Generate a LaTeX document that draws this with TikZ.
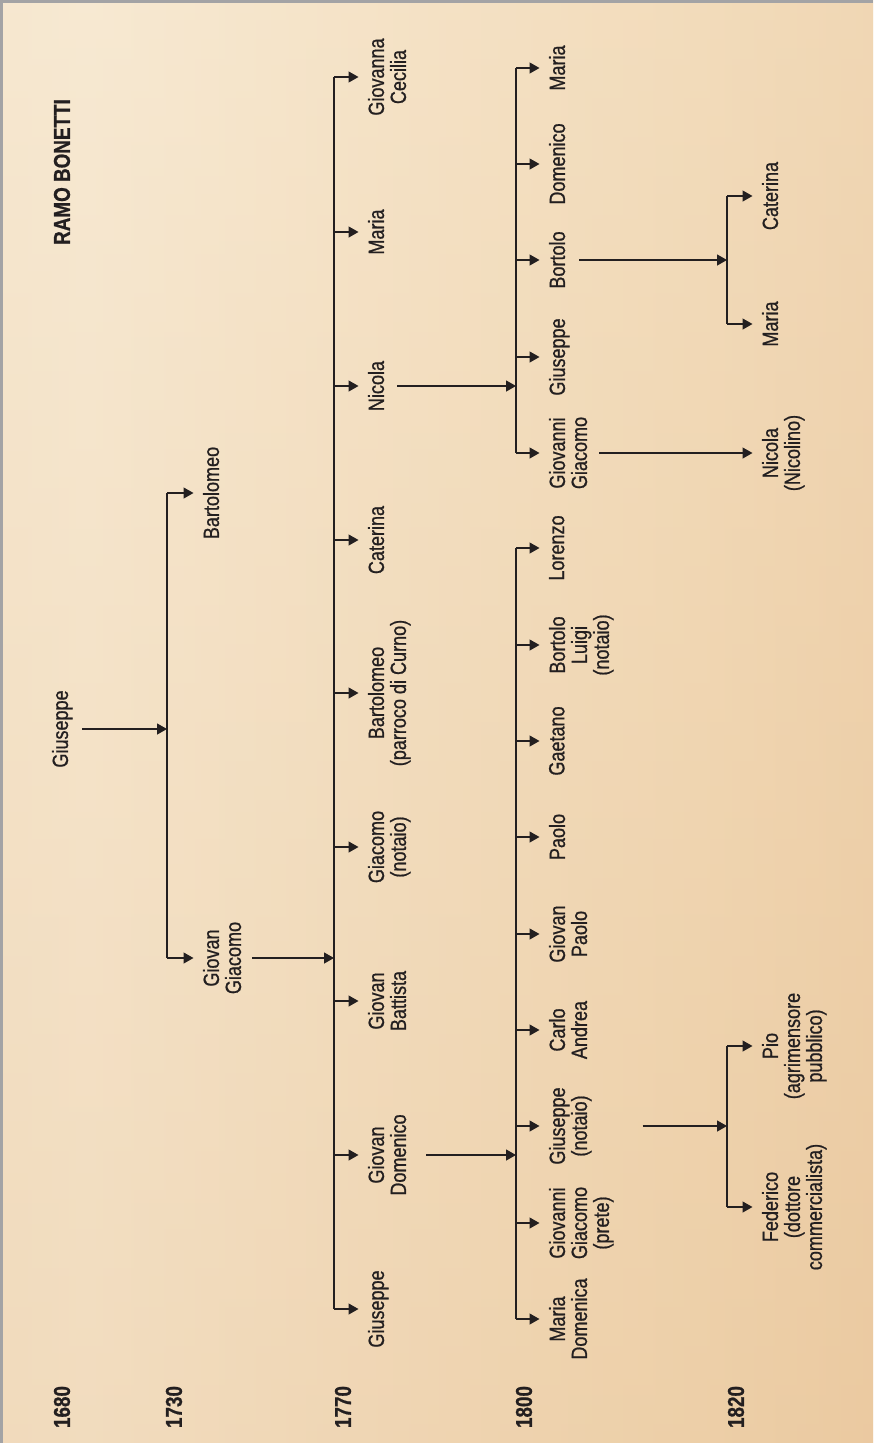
\documentclass[tikz,border=0pt]{standalone}
\usepackage{fontspec}
\setmainfont[FakeStretch=0.82, FakeBold=0.8]{Liberation Sans}
\usetikzlibrary{arrows.meta}
\definecolor{ink}{HTML}{231F20}
\definecolor{bgA}{HTML}{EEDBBC}
\definecolor{bgB}{HTML}{F7E9D2}
\definecolor{bgC}{HTML}{F0D5AF}
\definecolor{bgD}{HTML}{E4B98A}
\definecolor{bgBot}{HTML}{E8C49A}
\definecolor{frame}{HTML}{A3A3A5}
\pgfdeclarehorizontalshading{bgh}{100bp}{color(0bp)=(bgA); color(30bp)=(bgB); color(65bp)=(bgC); color(100bp)=(bgD)}
\begin{document}
\begin{tikzpicture}[x=1pt,y=-1pt,
  person/.style={rotate=90, anchor=north, align=center, inner sep=0pt, outer sep=0pt,
    font=\fontsize{22}{22}\selectfont, text=ink},
  yearlbl/.style={rotate=90, inner sep=0pt, font=\fontsize{23}{23}\selectfont\bfseries, text=ink},
  link/.style={draw=ink, line width=1.3pt},
  arr/.style={link, -{Triangle[length=10pt,width=11pt]}},
  branch/.style={arr, shorten >=9.5pt},
]
\useasboundingbox (0,0) rectangle (873,1443);
\shade[shading=bgh] (0,0) rectangle (873,1443);
\shade[top color=bgB, bottom color=bgBot, opacity=0.35] (0,0) rectangle (873,1443);
\draw[frame, line width=3pt] (1.5,1443) -- (1.5,1.5) -- (873,1.5);

% title and years
\node[yearlbl] (title) at (62,172) {RAMO BONETTI};
\node[yearlbl] (y1680) at (62,1407) {1680};
\node[yearlbl] (y1730) at (174,1407) {1730};
\node[yearlbl] (y1770) at (343,1407) {1770};
\node[yearlbl] (y1800) at (524,1407) {1800};
\node[yearlbl] (y1820) at (736,1407) {1820};

% vertical line positions
\coordinate (v1) at (167,0);
\coordinate (v2) at (334,0);
\coordinate (v3) at (516,0);
\coordinate (v4) at (727,0);

% 1680
\node[person] (g0) at (52,729) {Giuseppe};
% 1730
\node[person] (bart1) at (203,493) {Bartolomeo};
\node[person] (gg1) at (203,958) {Giovan\\Giacomo};
% 1770
\node[person] (gc) at (368,77) {Giovanna\\Cecilia};
\node[person] (mar2) at (368,232) {Maria};
\node[person] (nic) at (368,386) {Nicola};
\node[person] (cat2) at (368,540) {Caterina};
\node[person] (bart2) at (368,693) {Bartolomeo\\(parroco di Curno)};
\node[person] (giac) at (368,847) {Giacomo\\(notaio)};
\node[person] (gb) at (368,1001) {Giovan\\Battista};
\node[person] (gd) at (368,1155) {Giovan\\Domenico};
\node[person] (gius2) at (368,1309) {Giuseppe};
% 1800 (children of Nicola)
\node[person] (mar3) at (549,68) {Maria};
\node[person] (dom3) at (549,164) {Domenico};
\node[person] (bor3) at (549,260) {Bortolo};
\node[person] (gius3) at (549,357) {Giuseppe};
\node[person] (ggi3) at (549,453) {Giovanni\\Giacomo};
% 1800 (children of Giovan Domenico)
\node[person] (lor) at (549,548) {Lorenzo};
\node[person] (bl) at (549,645) {Bortolo\\Luigi\\(notaio)};
\node[person] (gae) at (549,741) {Gaetano};
\node[person] (pao) at (549,837) {Paolo};
\node[person] (gp) at (549,934) {Giovan\\Paolo};
\node[person] (ca) at (549,1030) {Carlo\\Andrea};
\node[person] (gn) at (549,1126) {Giuseppe\\(notaio)};
\node[person] (ggp) at (549,1223) {Giovanni\\Giacomo\\(prete)};
\node[person] (md) at (549,1319) {Maria\\Domenica};
% 1820
\node[person] (cat4) at (762,196) {Caterina};
\node[person] (mar4) at (762,324) {Maria};
\node[person] (nn) at (762,453) {Nicola\\(Nicolino)};
\node[person] (pio) at (762,1046) {Pio\\(agrimensore\\pubblico)};
\node[person] (fed) at (762,1207) {Federico\\(dottore\\commercialista)};

% Giuseppe -> Bartolomeo, Giovan Giacomo
\draw[arr, shorten <=9.5pt] (g0.south) -- (g0.south -| v1);
\draw[link] (bart1.north -| v1) -- (gg1.north -| v1);
\foreach \n in {bart1,gg1} \draw[branch] (\n.north -| v1) -- (\n.north);

% Giovan Giacomo -> 1770 children
\draw[arr, shorten <=11pt] (gg1.south) -- (gg1.south -| v2);
\draw[link] (gc.north -| v2) -- (gius2.north -| v2);
\foreach \n in {gc,mar2,nic,cat2,bart2,giac,gb,gd,gius2} \draw[branch] (\n.north -| v2) -- (\n.north);

% Nicola -> children
\draw[arr, shorten <=13pt] (nic.south) -- (nic.south -| v3);
\draw[link] (mar3.north -| v3) -- (ggi3.north -| v3);
\foreach \n in {mar3,dom3,bor3,gius3,ggi3} \draw[branch] (\n.north -| v3) -- (\n.north);

% Giovan Domenico -> children
\draw[arr, shorten <=20pt] (gd.south) -- (gd.south -| v3);
\draw[link] (lor.north -| v3) -- (md.north -| v3);
\foreach \n in {lor,bl,gae,pao,gp,ca,gn,ggp,md} \draw[branch] (\n.north -| v3) -- (\n.north);

% Bortolo -> Caterina, Maria
\draw[arr, shorten <=14pt] (bor3.south) -- (bor3.south -| v4);
\draw[link] (cat4.north -| v4) -- (mar4.north -| v4);
\foreach \n in {cat4,mar4} \draw[branch] (\n.north -| v4) -- (\n.north);

% Giovanni Giacomo -> Nicola (Nicolino)
\draw[arr, shorten <=12pt, shorten >=9.5pt] (ggi3.south) -- (nn.north);

% Giuseppe (notaio) -> Pio, Federico
\draw[arr, shorten <=51pt] (gn.south) -- (gn.south -| v4);
\draw[link] (pio.north -| v4) -- (fed.north -| v4);
\foreach \n in {pio,fed} \draw[branch] (\n.north -| v4) -- (\n.north);
\end{tikzpicture}
\end{document}
